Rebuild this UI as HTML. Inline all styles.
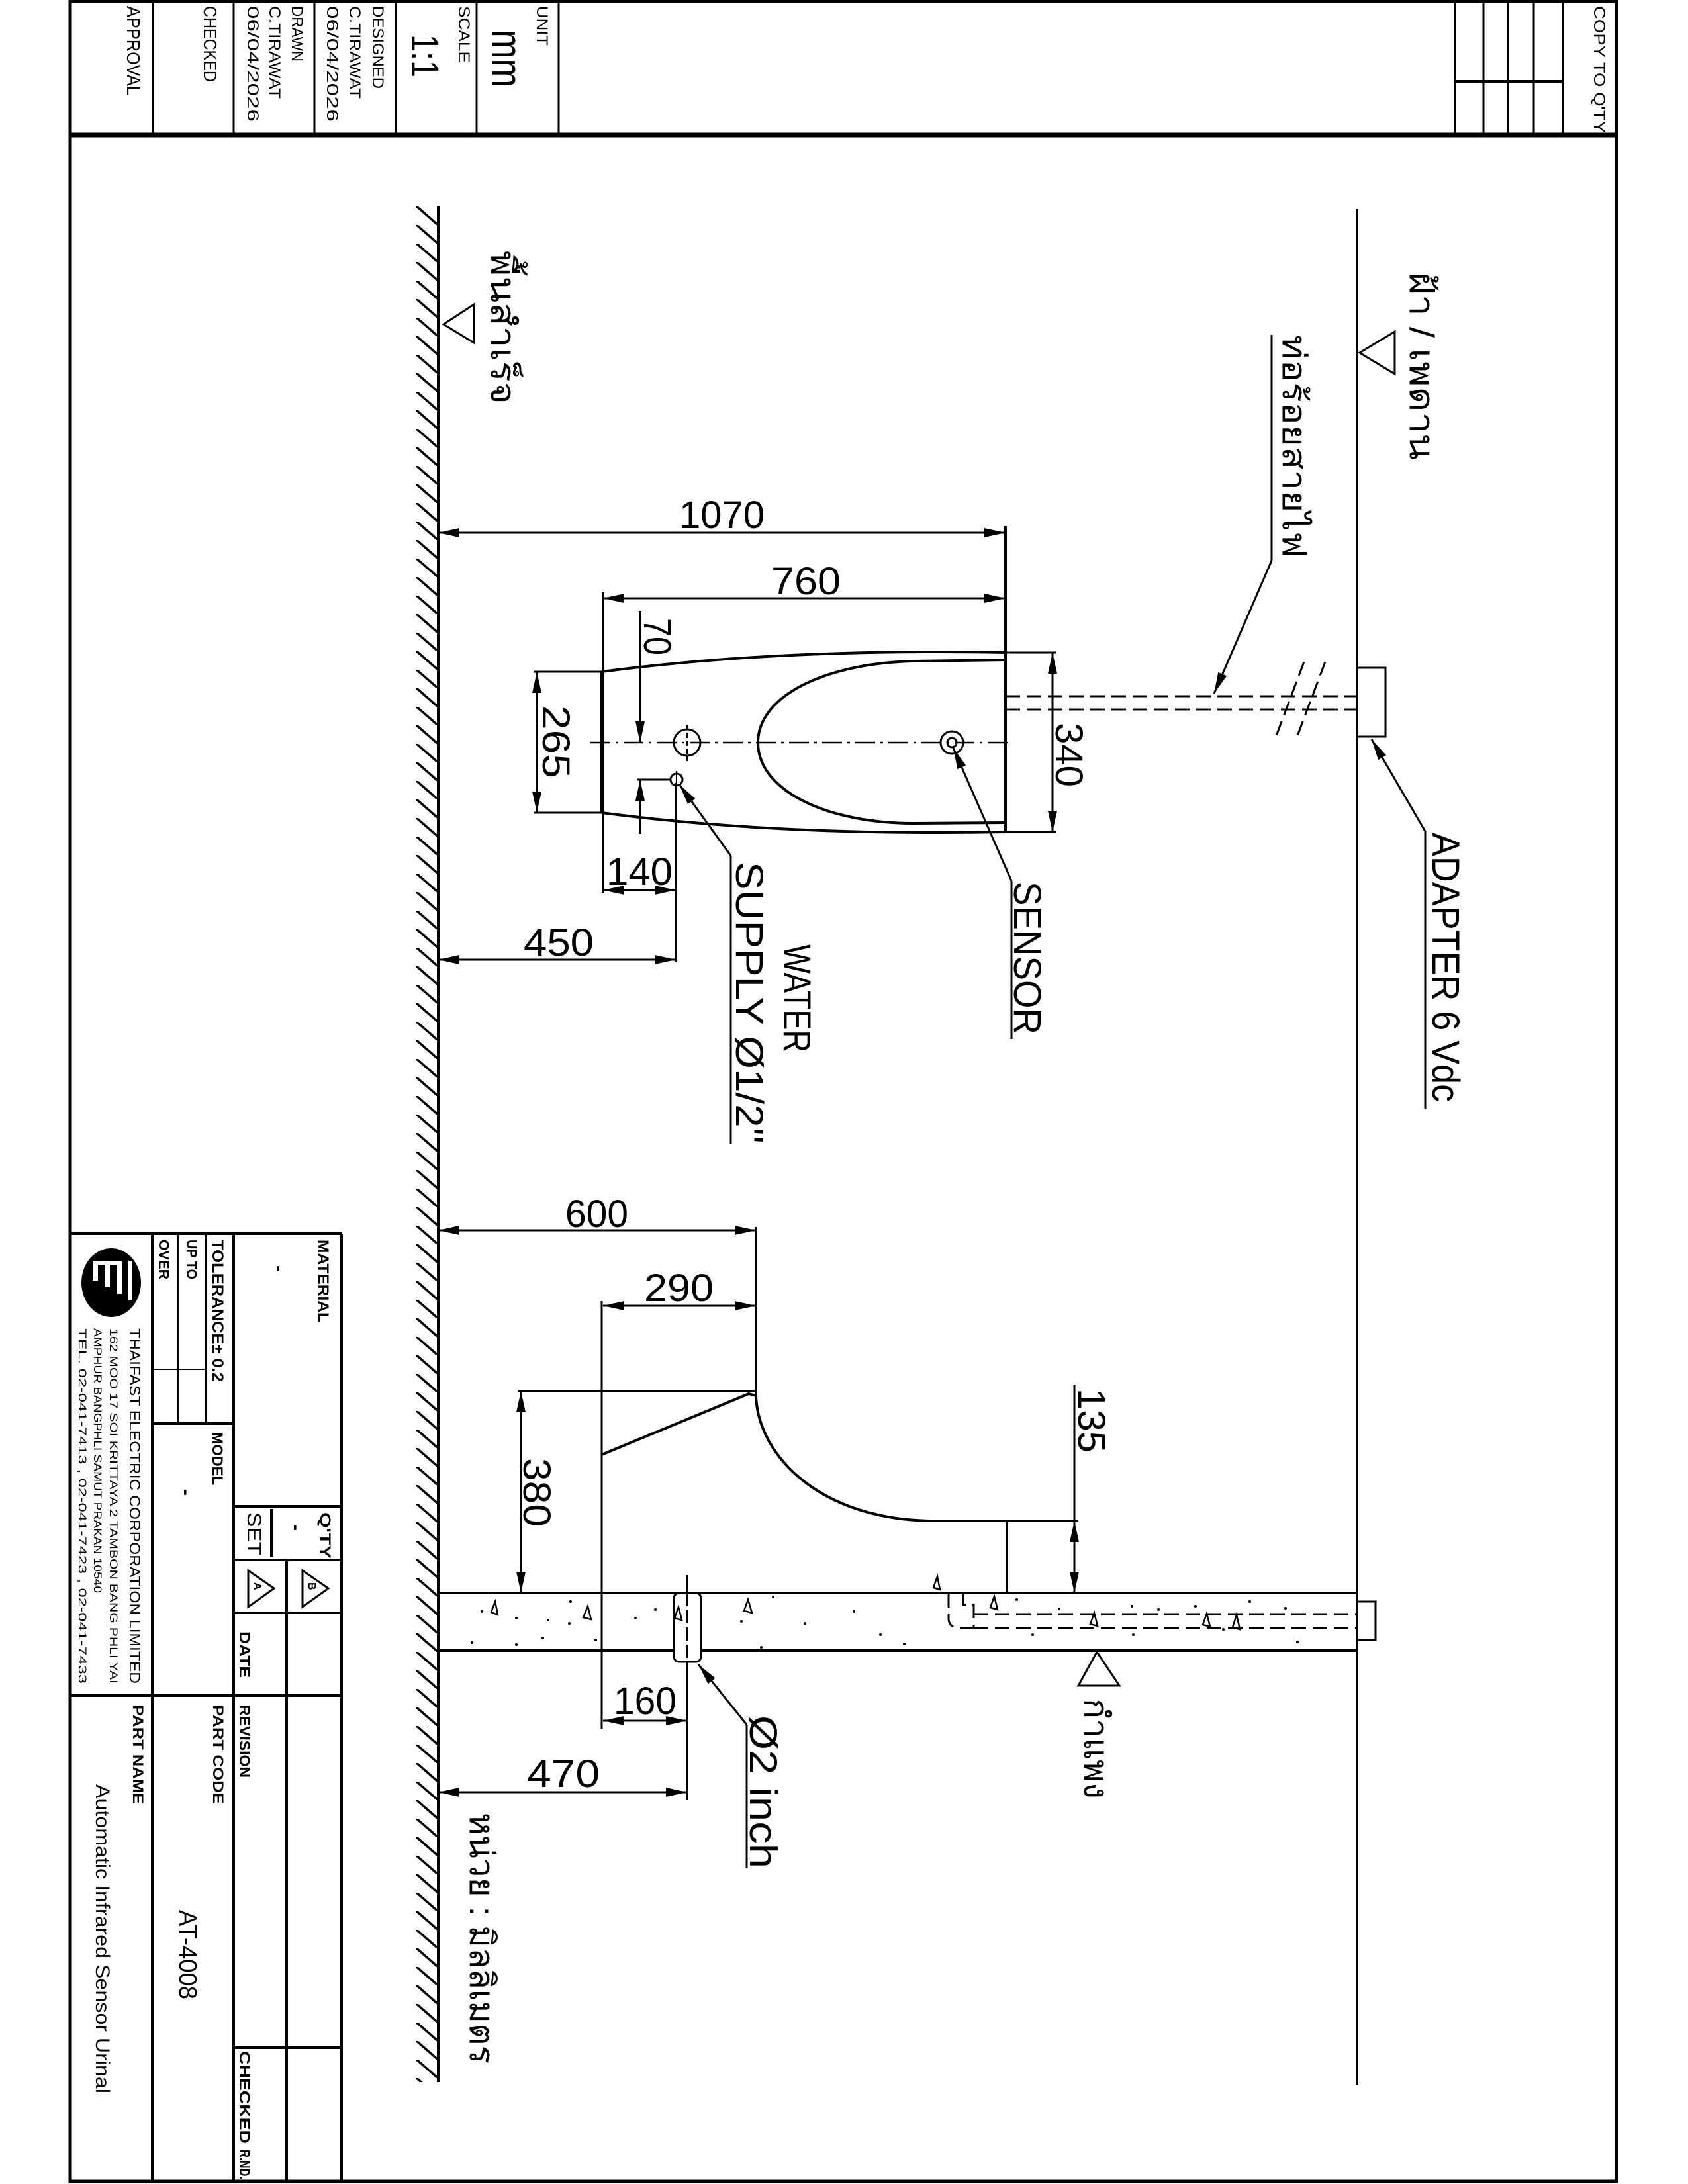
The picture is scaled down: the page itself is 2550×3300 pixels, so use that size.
<!DOCTYPE html>
<html><head><meta charset="utf-8"><style>
html,body{margin:0;padding:0;background:#fff}
svg{display:block}
text{font-family:"Liberation Sans",sans-serif;fill:#000}
</style></head><body>
<svg xmlns="http://www.w3.org/2000/svg" width="2550" height="3300" viewBox="0 0 2550 3300">
<defs>
<marker id="a" markerUnits="userSpaceOnUse" orient="auto-start-reverse" overflow="visible" markerWidth="1" markerHeight="1" refX="0" refY="0"><path d="M0,0 L-32,-7 L-32,7 Z" fill="#000"/></marker>
<pattern id="h" patternUnits="userSpaceOnUse" x="629" y="312" width="33" height="28"><line x1="-2" y1="-2" x2="35" y2="30" stroke="#000" stroke-width="3.5"/></pattern>
</defs>
<rect width="2550" height="3300" fill="#fff"/>
<g stroke="#000" fill="none">
<rect x="106" y="2" width="2336" height="3294" stroke-width="5"/>
<line x1="106" y1="204" x2="2442" y2="204" stroke-width="7"/>
<g stroke-width="3">
<line x1="231" y1="0" x2="231" y2="204"/><line x1="353" y1="0" x2="353" y2="204"/><line x1="475" y1="0" x2="475" y2="204"/><line x1="598" y1="0" x2="598" y2="204"/><line x1="720" y1="0" x2="720" y2="204"/><line x1="844" y1="0" x2="844" y2="204"/>
<line x1="2198" y1="0" x2="2198" y2="204"/><line x1="2241" y1="0" x2="2241" y2="204"/><line x1="2278" y1="0" x2="2278" y2="204"/><line x1="2317" y1="0" x2="2317" y2="204"/><line x1="2361" y1="0" x2="2361" y2="204"/>
<line x1="2198" y1="123" x2="2361" y2="123" stroke-width="4"/>
</g>
<g stroke-width="4">
<line x1="106" y1="1864" x2="516" y2="1864"/>
<line x1="516" y1="1864" x2="516" y2="3296"/>
<line x1="353" y1="1864" x2="353" y2="3296"/>
<line x1="230" y1="1864" x2="230" y2="3296"/>
<line x1="311" y1="1864" x2="311" y2="2151"/>
<line x1="269" y1="1864" x2="269" y2="2151"/>
<line x1="230" y1="2069" x2="311" y2="2069" stroke-width="2"/>
<line x1="230" y1="2151" x2="353" y2="2151"/>
<line x1="106" y1="2562" x2="516" y2="2562"/>
<line x1="353" y1="2276" x2="516" y2="2276"/>
<line x1="353" y1="2357" x2="516" y2="2357"/>
<line x1="353" y1="2437" x2="516" y2="2437"/>
<line x1="353" y1="3094" x2="516" y2="3094"/>
<line x1="433" y1="2357" x2="433" y2="3296"/>
<line x1="410" y1="2280" x2="410" y2="2352"/>
</g>
<polygon points="375,2373 375,2428 414,2400" stroke-width="3"/>
<polygon points="457,2373 457,2428 496,2400" stroke-width="3"/>

<rect x="629" y="312" width="33" height="2834" fill="url(#h)" stroke="none"/>
<line x1="662" y1="312" x2="662" y2="3146" stroke-width="4"/>
<line x1="2050" y1="316" x2="2050" y2="3150" stroke-width="4"/>
<polygon points="2054,533 2107,501 2107,565" stroke-width="3"/>
<polygon points="670,490 716,460 716,518" stroke-width="3"/>

<g stroke-width="4">
<line x1="909" y1="1015" x2="909" y2="1228"/>
<line x1="1519" y1="795" x2="1519" y2="1257"/>
<path d="M909,1015 C1100,990 1300,982 1519,986"/>
<path d="M909,1228 C1100,1253 1300,1261 1519,1257"/>
<path d="M1519,997 L1380,999 C1250,1002 1145,1050 1145,1122 C1145,1195 1250,1244 1380,1244 L1519,1243"/>
</g>
<line x1="892" y1="1122" x2="1528" y2="1122" stroke-width="2.5" stroke-dasharray="30,8,4,8"/>
<circle cx="1038" cy="1122" r="20" stroke-width="3"/>
<line x1="1038" y1="1095" x2="1038" y2="1150" stroke-width="2" stroke-dasharray="8,4"/>
<circle cx="1438" cy="1122" r="17" stroke-width="3"/>
<circle cx="1438" cy="1122" r="7" stroke-width="3"/>
<circle cx="1022" cy="1178" r="9" stroke-width="3"/>
<line x1="1022" y1="1165" x2="1022" y2="1191" stroke-width="2"/>
<g stroke-width="3">
<line x1="662" y1="805" x2="1519" y2="805" marker-start="url(#a)" marker-end="url(#a)"/>
<line x1="911" y1="895" x2="911" y2="1349"/>
<line x1="911" y1="904" x2="1519" y2="904" marker-start="url(#a)" marker-end="url(#a)"/>
<line x1="967" y1="923" x2="967" y2="1122" marker-end="url(#a)"/>
<line x1="967" y1="1260" x2="967" y2="1178" marker-end="url(#a)"/>
<line x1="962" y1="1178" x2="1012" y2="1178"/>
<line x1="806" y1="1015" x2="909" y2="1015"/><line x1="806" y1="1228" x2="909" y2="1228"/>
<line x1="811" y1="1015" x2="811" y2="1228" marker-start="url(#a)" marker-end="url(#a)"/>
<line x1="1519" y1="986" x2="1595" y2="986"/><line x1="1519" y1="1257" x2="1595" y2="1257"/>
<line x1="1590" y1="986" x2="1590" y2="1257" marker-start="url(#a)" marker-end="url(#a)"/>
<line x1="1021" y1="1183" x2="1021" y2="1454"/>
<line x1="911" y1="1345" x2="1021" y2="1345" marker-start="url(#a)" marker-end="url(#a)"/>
<line x1="662" y1="1450" x2="1021" y2="1450" marker-start="url(#a)" marker-end="url(#a)"/>
<line x1="1104" y1="1293" x2="1026" y2="1185" marker-end="url(#a)"/>
<line x1="1104" y1="1293" x2="1104" y2="1728"/>
<line x1="1528" y1="1331" x2="1440" y2="1130" marker-end="url(#a)"/>
<line x1="1528" y1="1331" x2="1528" y2="1570"/>
<line x1="1921" y1="847" x2="1834" y2="1048" marker-end="url(#a)"/>
<line x1="1921" y1="847" x2="1921" y2="506"/>
<line x1="2153" y1="1256" x2="2072" y2="1117" marker-end="url(#a)"/>
<line x1="2153" y1="1256" x2="2153" y2="1675"/>
</g>
<g stroke-width="3" stroke-dasharray="22,10">
<line x1="1519" y1="1052" x2="2050" y2="1052"/>
<line x1="1519" y1="1072" x2="2050" y2="1072"/>
<line x1="2002" y1="1000" x2="1958" y2="1117"/>
<line x1="1970" y1="1000" x2="1926" y2="1117"/>
</g>
<rect x="2050" y="1009" width="43" height="104" stroke-width="3"/>

<g stroke-width="3">
<line x1="662" y1="1859" x2="1142" y2="1859" marker-start="url(#a)" marker-end="url(#a)"/>
<line x1="1142" y1="1854" x2="1142" y2="2109"/>
<line x1="909" y1="1966" x2="909" y2="2612"/>
<line x1="911" y1="1973" x2="1142" y2="1973" marker-start="url(#a)" marker-end="url(#a)"/>
<line x1="782" y1="2102" x2="1142" y2="2102" stroke-width="4"/>
<line x1="787" y1="2102" x2="787" y2="2407" marker-start="url(#a)" marker-end="url(#a)"/>
<line x1="1623" y1="2092" x2="1623" y2="2298"/>
<line x1="1623" y1="2298" x2="1623" y2="2407" marker-start="url(#a)" marker-end="url(#a)"/>
<line x1="1521" y1="2298" x2="1521" y2="2407"/>
<line x1="1038" y1="2380" x2="1038" y2="2720"/>
<line x1="911" y1="2600" x2="1038" y2="2600" marker-start="url(#a)" marker-end="url(#a)"/>
<line x1="662" y1="2708" x2="1038" y2="2708" marker-start="url(#a)" marker-end="url(#a)"/>
<line x1="1128" y1="2606" x2="1055" y2="2515" marker-end="url(#a)"/>
<line x1="1128" y1="2606" x2="1128" y2="2823"/>
</g>
<g stroke-width="4">
<path d="M909,2198 L1131,2106 L1142,2109"/>
<path d="M1142,2109 C1145,2200 1240,2298 1413,2298 L1629,2298"/>
<line x1="662" y1="2407" x2="2050" y2="2407"/>
<line x1="662" y1="2494" x2="2050" y2="2494"/>
</g>
<rect x="1018" y="2407" width="41" height="104" rx="8" stroke-width="3" fill="#fff"/>
<line x1="1038" y1="2407" x2="1038" y2="2505" stroke-width="2" stroke-dasharray="20,6"/>
<rect x="2050" y="2420" width="28" height="58" stroke-width="3"/>
<g stroke-width="3" stroke-dasharray="22,10">
<line x1="1471" y1="2439" x2="2050" y2="2439"/>
<line x1="1471" y1="2460" x2="2050" y2="2460"/>
<path d="M1433,2407 L1433,2445 Q1433,2460 1450,2460 L1471,2460"/>
<path d="M1455,2407 L1455,2425 L1471,2425 L1471,2460"/>
</g>
<polygon points="1657,2496 1629,2547 1691,2547" stroke-width="3"/>
<g stroke-width="2.5">
<polygon points="748,2420 752,2440 742,2436"/><polygon points="888,2427 893,2447 881,2444"/><polygon points="1025,2428 1030,2448 1019,2445"/><polygon points="1130,2417 1136,2437 1124,2434"/>
<polygon points="1416,2382 1420,2402 1410,2399"/><polygon points="1502,2412 1507,2432 1496,2429"/><polygon points="1653,2437 1658,2457 1647,2454"/><polygon points="1823,2438 1828,2458 1817,2455"/><polygon points="1868,2440 1873,2462 1862,2459"/>
</g>
</g>
<g fill="#000">
<circle cx="728" cy="2435" r="2"/><circle cx="780" cy="2445" r="2"/><circle cx="828" cy="2448" r="2"/><circle cx="860" cy="2453" r="2"/><circle cx="862" cy="2420" r="2"/><circle cx="960" cy="2445" r="2"/><circle cx="990" cy="2432" r="2"/><circle cx="1120" cy="2450" r="2"/><circle cx="1168" cy="2413" r="2"/><circle cx="1216" cy="2453" r="2"/><circle cx="1290" cy="2435" r="2"/><circle cx="1330" cy="2470" r="2"/><circle cx="1366" cy="2484" r="2"/><circle cx="1536" cy="2417" r="2"/><circle cx="1600" cy="2431" r="2"/><circle cx="1710" cy="2427" r="2"/><circle cx="1750" cy="2432" r="2"/><circle cx="1806" cy="2427" r="2"/><circle cx="1888" cy="2420" r="2"/><circle cx="1942" cy="2430" r="2"/><circle cx="1960" cy="2481" r="2"/><circle cx="1560" cy="2470" r="2"/><circle cx="1712" cy="2470" r="2"/><circle cx="1848" cy="2462" r="2"/><circle cx="713" cy="2482" r="2"/><circle cx="780" cy="2485" r="2"/><circle cx="820" cy="2475" r="2"/><circle cx="900" cy="2478" r="2"/><circle cx="1150" cy="2489" r="2"/>
<ellipse cx="168" cy="1938" rx="45" ry="52"/>
</g>
<g fill="#fff">
<rect x="140" y="1905" width="8" height="30"/><rect x="158" y="1905" width="8" height="40"/><rect x="176" y="1905" width="8" height="50"/><rect x="140" y="1905" width="44" height="6"/><rect x="194" y="1905" width="6" height="60"/>
</g>

<g font-size="58">
<text x="1026" y="798" textLength="129" lengthAdjust="spacingAndGlyphs">1070</text>
<text x="1165" y="898" textLength="105" lengthAdjust="spacingAndGlyphs">760</text>
<text x="916" y="1337" textLength="100" lengthAdjust="spacingAndGlyphs">140</text>
<text x="791" y="1444" textLength="106" lengthAdjust="spacingAndGlyphs">450</text>
<text x="854" y="1854" textLength="95" lengthAdjust="spacingAndGlyphs">600</text>
<text x="973" y="1966" textLength="105" lengthAdjust="spacingAndGlyphs">290</text>
<text x="927" y="2590" textLength="95" lengthAdjust="spacingAndGlyphs">160</text>
<text x="796" y="2700" textLength="110" lengthAdjust="spacingAndGlyphs">470</text>
</g>
<g font-size="58">
<text transform="translate(820,1066) rotate(90)" textLength="110" lengthAdjust="spacingAndGlyphs">265</text>
<text transform="translate(973,934) rotate(90)" textLength="56" lengthAdjust="spacingAndGlyphs">70</text>
<text transform="translate(1595,1092) rotate(90)" textLength="97" lengthAdjust="spacingAndGlyphs">340</text>
<text transform="translate(1629,2098) rotate(90)" textLength="97" lengthAdjust="spacingAndGlyphs">135</text>
<text transform="translate(791,2203) rotate(90)" textLength="104" lengthAdjust="spacingAndGlyphs">380</text>
<text transform="translate(1184,1427) rotate(90)" textLength="163" lengthAdjust="spacingAndGlyphs">WATER</text>
<text transform="translate(1112,1302) rotate(90)" textLength="426" lengthAdjust="spacingAndGlyphs">SUPPLY Ø1/2''</text>
<text transform="translate(1532,1332) rotate(90)" textLength="231" lengthAdjust="spacingAndGlyphs">SENSOR</text>
<text transform="translate(2164,1258) rotate(90)" textLength="407" lengthAdjust="spacingAndGlyphs">ADAPTER 6 Vdc</text>
<text transform="translate(1133,2592) rotate(90)" textLength="231" lengthAdjust="spacingAndGlyphs">Ø2 inch</text>
<text transform="translate(2130,411) rotate(90)" font-size="52" textLength="284" lengthAdjust="spacingAndGlyphs">ฝ้า / เพดาน</text>
<text transform="translate(1938,506) rotate(90)" font-size="50" textLength="337" lengthAdjust="spacingAndGlyphs">ท่อร้อยสายไฟ</text>
<text transform="translate(742,379) rotate(90)" font-size="52" textLength="232" lengthAdjust="spacingAndGlyphs">พื้นสำเร็จ</text>
<text transform="translate(1638,2566) rotate(90)" font-size="52" textLength="152" lengthAdjust="spacingAndGlyphs">กำแพง</text>
<text transform="translate(710,2739) rotate(90)" font-size="52" textLength="379" lengthAdjust="spacingAndGlyphs">หน่วย : มิลลิเมตร</text>
</g>
<g font-size="28">
<text transform="translate(192,9) rotate(90)" textLength="135" lengthAdjust="spacingAndGlyphs">APPROVAL</text>
<text transform="translate(308,9) rotate(90)" textLength="115" lengthAdjust="spacingAndGlyphs">CHECKED</text>
<text transform="translate(441,9) rotate(90)" font-size="24" textLength="84" lengthAdjust="spacingAndGlyphs">DRAWN</text>
<text transform="translate(407,9) rotate(90)" font-size="24" textLength="140" lengthAdjust="spacingAndGlyphs">C.TIRAWAT</text>
<text transform="translate(374,9) rotate(90)" font-size="24" textLength="175" lengthAdjust="spacingAndGlyphs">06/04/2026</text>
<text transform="translate(563,9) rotate(90)" font-size="24" textLength="125" lengthAdjust="spacingAndGlyphs">DESIGNED</text>
<text transform="translate(528,9) rotate(90)" font-size="24" textLength="140" lengthAdjust="spacingAndGlyphs">C.TIRAWAT</text>
<text transform="translate(494,9) rotate(90)" font-size="24" textLength="175" lengthAdjust="spacingAndGlyphs">06/04/2026</text>
<text transform="translate(693,9) rotate(90)" font-size="24" textLength="86" lengthAdjust="spacingAndGlyphs">SCALE</text>
<text transform="translate(622,52) rotate(90)" font-size="58" textLength="65" lengthAdjust="spacingAndGlyphs">1:1</text>
<text transform="translate(811,9) rotate(90)" font-size="24" textLength="60" lengthAdjust="spacingAndGlyphs">UNIT</text>
<text transform="translate(744,45) rotate(90)" font-size="64" textLength="87" lengthAdjust="spacingAndGlyphs">mm</text>
<text transform="translate(2408,9) rotate(90)" font-size="24" textLength="192" lengthAdjust="spacingAndGlyphs">COPY TO Q'TY</text>
</g>
<g font-size="22" font-weight="bold">
<text transform="translate(481,1873) rotate(90)" textLength="125" lengthAdjust="spacingAndGlyphs">MATERIAL</text>
<text transform="translate(412,1912) rotate(90)" font-size="30">-</text>
<text transform="translate(321,1873) rotate(90)" font-size="24" textLength="215" lengthAdjust="spacingAndGlyphs">TOLERANCE± 0.2</text>
<text transform="translate(282,1873) rotate(90)" textLength="60" lengthAdjust="spacingAndGlyphs">UP TO</text>
<text transform="translate(240,1873) rotate(90)" textLength="60" lengthAdjust="spacingAndGlyphs">OVER</text>
<text transform="translate(321,2164) rotate(90)" textLength="80" lengthAdjust="spacingAndGlyphs">MODEL</text>
<text transform="translate(272,2250) rotate(90)" font-size="30">-</text>
<text transform="translate(484,2285) rotate(90)" textLength="70" lengthAdjust="spacingAndGlyphs">Q'TY</text>
<text transform="translate(438,2303) rotate(90)" font-size="30">-</text>
<text transform="translate(374,2285) rotate(90)" font-size="30" font-weight="normal" textLength="65" lengthAdjust="spacingAndGlyphs">SET</text>
<text transform="translate(384,2391) rotate(90)" font-size="16">A</text>
<text transform="translate(466,2391) rotate(90)" font-size="16">B</text>
<text transform="translate(362,2465) rotate(90)" textLength="70" lengthAdjust="spacingAndGlyphs">DATE</text>
<text transform="translate(362,2576) rotate(90)" textLength="110" lengthAdjust="spacingAndGlyphs">REVISION</text>
<text transform="translate(322,2576) rotate(90)" textLength="150" lengthAdjust="spacingAndGlyphs">PART CODE</text>
<text transform="translate(201,2576) rotate(90)" textLength="150" lengthAdjust="spacingAndGlyphs">PART NAME</text>
<text transform="translate(362,3099) rotate(90)" textLength="140" lengthAdjust="spacingAndGlyphs">CHECKED</text>
<text transform="translate(362,3248) rotate(90)" textLength="45" lengthAdjust="spacingAndGlyphs">R.ND.</text>
</g>
<g>
<text transform="translate(271,2886) rotate(90)" font-size="38" textLength="135" lengthAdjust="spacingAndGlyphs">AT-4008</text>
<text transform="translate(145,2696) rotate(90)" font-size="30" textLength="467" lengthAdjust="spacingAndGlyphs">Automatic Infrared Sensor Urinal</text>
<text transform="translate(196,2007) rotate(90)" font-size="22" textLength="537" lengthAdjust="spacingAndGlyphs">THAIFAST ELECTRIC CORPORATION LIMITED</text>
<text transform="translate(166,2007) rotate(90)" font-size="17" textLength="537" lengthAdjust="spacingAndGlyphs">162 MOO 17 SOI KRITTAYA 2 TAMBON BANG PHLI YAI</text>
<text transform="translate(142,2007) rotate(90)" font-size="17" textLength="400" lengthAdjust="spacingAndGlyphs">AMPHUR BANGPHLI SAMUT PRAKAN 10540</text>
<text transform="translate(119,2007) rotate(90)" font-size="17" textLength="537" lengthAdjust="spacingAndGlyphs">TEL. 02-041-7413 , 02-041-7423 , 02-041-7433</text>
</g>
</svg>
</body></html>
